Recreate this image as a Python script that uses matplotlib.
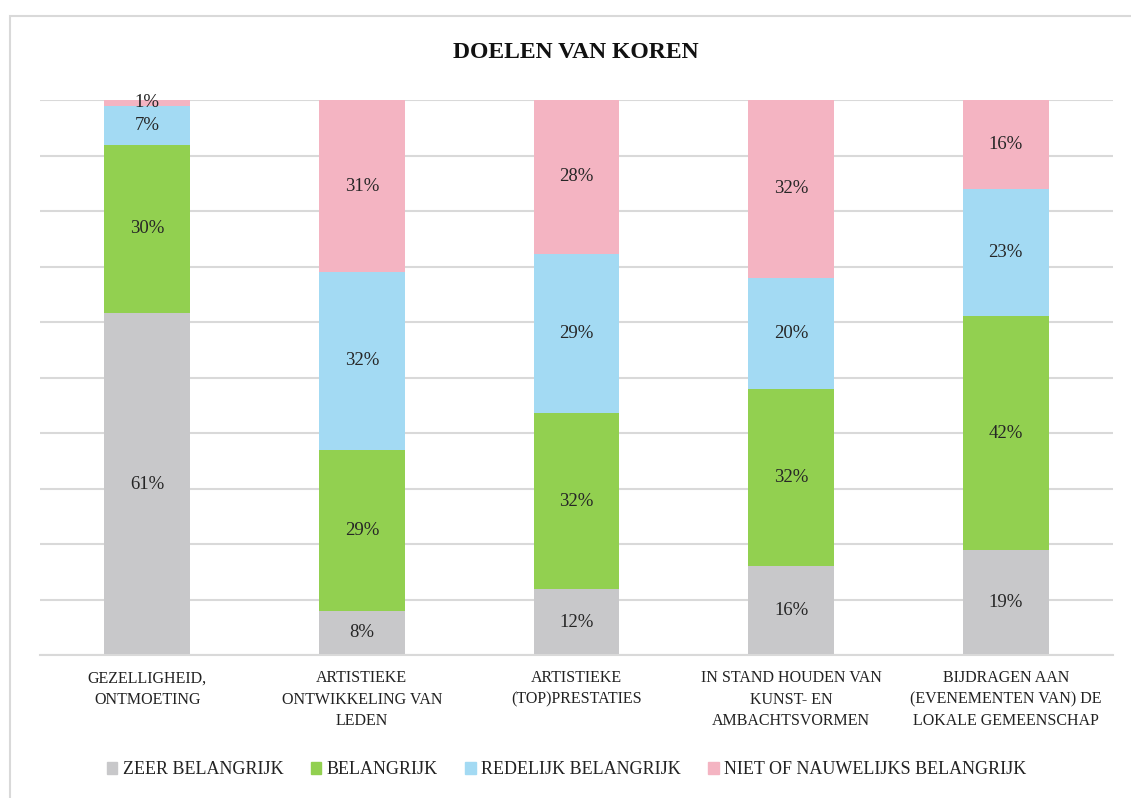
import matplotlib.pyplot as plt
import matplotlib.patches as mpatches
import numpy as np

plt.rcParams['font.family'] = ['Liberation Serif', 'DejaVu Serif']

# data
categories = ["GEZELLIGHEID,\nONTMOETING",
              "ARTISTIEKE\nONTWIKKELING VAN\nLEDEN",
              "ARTISTIEKE\n(TOP)PRESTATIES",
              "IN STAND HOUDEN VAN\nKUNST- EN\nAMBACHTSVORMEN",
              "BIJDRAGEN AAN\n(EVENEMENTEN VAN) DE\nLOKALE GEMEENSCHAP"]
series_names = ["ZEER BELANGRIJK", "BELANGRIJK", "REDELIJK BELANGRIJK",
                "NIET OF NAUWELIJKS BELANGRIJK"]
zeer = [61, 8, 12, 16, 19]
belangrijk = [30, 29, 32, 32, 42]
redelijk = [7, 32, 29, 20, 23]
niet = [1, 31, 28, 32, 16]
colors = ["#C8C8CA", "#92D050", "#A3DAF3", "#F4B4C2"]

vals = np.array([zeer, belangrijk, redelijk, niet], dtype=float)
pct = vals / vals.sum(axis=0) * 100

fig = plt.figure(figsize=(11.31, 7.98), dpi=100)
ax = fig.add_axes([40 / 1131, 1 - 655 / 798, 1073 / 1131, 555 / 798])

x = np.arange(len(categories))
bottom = np.zeros(len(categories))
handles = []
for i in range(4):
    ax.bar(x, pct[i], 0.4, bottom=bottom, color=colors[i], zorder=2)
    for j in range(len(categories)):
        ax.text(x[j], bottom[j] + pct[i][j] / 2, f"{int(vals[i][j])}%",
                ha="center", va="center", fontsize=13.5, color="#262626", zorder=3)
    bottom += pct[i]
    handles.append(mpatches.Patch(color=colors[i], label=series_names[i]))

ax.set_xlim(-0.5, len(categories) - 0.5)
ax.set_ylim(0, 100)
ax.set_yticks(np.arange(0, 101, 10))
ax.yaxis.grid(True, color="#D9D9D9", linewidth=1.5, zorder=0)
ax.tick_params(axis="y", left=False, labelleft=False)
ax.tick_params(axis="x", length=0, pad=11)
ax.set_xticks(x)
ax.set_xticklabels(categories, fontsize=11.5, color="#222222", linespacing=1.45, va="top")
for s in ["top", "right", "left"]:
    ax.spines[s].set_visible(False)
ax.spines["bottom"].set_color("#D9D9D9")
ax.spines["bottom"].set_linewidth(1.5)

fig.text(576 / 1131, 1 - 53 / 798, "DOELEN VAN KOREN", ha="center", va="center",
         fontsize=17, fontweight="bold", color="#111111")

fig.legend(handles=handles, loc="center", bbox_to_anchor=(0.501, 1 - 770 / 798),
           ncol=4, frameon=False, fontsize=13, handlelength=0.6, handleheight=0.6,
           handletextpad=0.3, columnspacing=1.5, labelcolor="#222222")

fig.patches.append(mpatches.Rectangle((10 / 1131, -0.01), 1.02, 1 - 16 / 798 + 0.01,
                                      transform=fig.transFigure, fill=False,
                                      edgecolor="#D9D9D9", linewidth=1.5))

fig.savefig("out.png", dpi=100)
